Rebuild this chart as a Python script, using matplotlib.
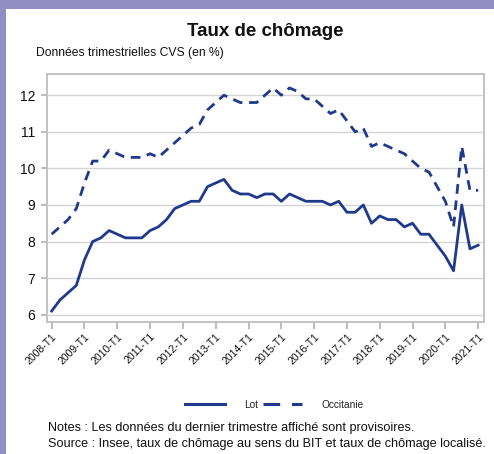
import matplotlib
matplotlib.use("Agg")
import matplotlib.pyplot as plt
from matplotlib.lines import Line2D
from matplotlib.patches import Rectangle

plt.rcParams['font.family'] = ['Liberation Sans', 'DejaVu Sans']
plt.rcParams['lines.scale_dashes'] = False

years = list(range(2008, 2022))
tick_labels = [f"{y}-T1" for y in years]

lot = [6.1, 6.4, 6.6, 6.8, 7.5, 8.0, 8.1, 8.3, 8.2, 8.1, 8.1, 8.1, 8.3, 8.4,
       8.6, 8.9, 9.0, 9.1, 9.1, 9.5, 9.6, 9.7, 9.4, 9.3, 9.3, 9.2, 9.3, 9.3,
       9.1, 9.3, 9.2, 9.1, 9.1, 9.1, 9.0, 9.1, 8.8, 8.8, 9.0, 8.5, 8.7, 8.6,
       8.6, 8.4, 8.5, 8.2, 8.2, 7.9, 7.6, 7.2, 9.0, 7.8, 7.9]
occitanie = [8.2, 8.4, 8.6, 8.9, 9.6, 10.2, 10.2, 10.5, 10.4, 10.3, 10.3, 10.3,
             10.4, 10.3, 10.5, 10.7, 10.9, 11.1, 11.2, 11.6, 11.8, 12.0, 11.9,
             11.8, 11.8, 11.8, 12.0, 12.2, 12.0, 12.2, 12.1, 11.9, 11.9, 11.7,
             11.5, 11.6, 11.3, 11.0, 11.1, 10.6, 10.7, 10.6, 10.5, 10.4, 10.2,
             10.0, 9.9, 9.5, 9.1, 8.4, 10.6, 9.4, 9.4]
series_names = ["Lot", "Occitanie"]

W, H = 494, 454
fig = plt.figure(figsize=(W / 100, H / 100), dpi=100)
fig.patch.set_facecolor('white')

# lavender border (left and top)
border = '#8f8fc6'
fig.add_artist(Rectangle((0, 0), 6 / W, 1, transform=fig.transFigure,
                         facecolor=border, edgecolor='none', zorder=0))
fig.add_artist(Rectangle((0, 1 - 9 / H), 1, 9 / H, transform=fig.transFigure,
                         facecolor=border, edgecolor='none', zorder=0))

left, right, top, bottom = 47, 484.3, 74, 322
ax = fig.add_axes([left / W, 1 - bottom / H, (right - left) / W, (bottom - top) / H])

color = '#1f3a8c'
x = list(range(len(lot)))
ax.plot(x, lot, color=color, lw=2.0, solid_joinstyle='round', zorder=3)
l2, = ax.plot(x, occitanie, color=color, lw=2.0, zorder=3)
l2.set_dashes((7.0, 4.8))

ax.set_xlim(-0.57, 52.75)
ax.set_ylim(5.8, 12.58)

ax.set_yticks([6, 7, 8, 9, 10, 11, 12])
ax.set_yticklabels(['6', '7', '8', '9', '10', '11', '12'], fontsize=10, color='#111111')
ax.set_xticks([4 * i for i in range(len(years))])
ax.set_xticklabels(tick_labels, rotation=45, ha='right', rotation_mode='anchor',
                   fontsize=7.5, color='#111111')

ax.grid(axis='y', color='#d4d4d4', lw=1.0, zorder=0)
ax.set_axisbelow(True)
for s in ax.spines.values():
    s.set_color('#c2c2c2')
    s.set_linewidth(1.4)
ax.tick_params(axis='y', length=4, width=1.2, color='#b0b0b0', pad=4.5)
ax.tick_params(axis='x', length=5, width=1.2, color='#b0b0b0', pad=2)

fig.text(265.5 / W, 1 - 31 / H, "Taux de chômage", ha='center', va='center',
         fontsize=13.5, fontweight='bold', color='#111111')
fig.text(36 / W, 1 - 53 / H, "Données trimestrielles CVS (en %)", ha='left',
         va='center', fontsize=8.7, color='#111111')

h1 = Line2D([], [], color=color, lw=2.2)
h2 = Line2D([], [], color=color, lw=2.2)
h2.set_dashes((12, 8.5))
fig.legend([h1, h2], series_names, loc='center', bbox_to_anchor=(274.5 / W, 1 - 405 / H),
           ncol=2, frameon=False, fontsize=7.3, handlelength=3.9, handletextpad=1.9,
           columnspacing=0.5, labelcolor='#222222')

fig.text(48 / W, 1 - 428 / H,
         "Notes : Les données du dernier trimestre affiché sont provisoires.",
         ha='left', va='center', fontsize=9.1, color='#111111')
fig.text(48 / W, 1 - 444 / H,
         "Source : Insee, taux de chômage au sens du BIT et taux de chômage localisé.",
         ha='left', va='center', fontsize=9.1, color='#111111')

fig.savefig('out.png', dpi=100)
